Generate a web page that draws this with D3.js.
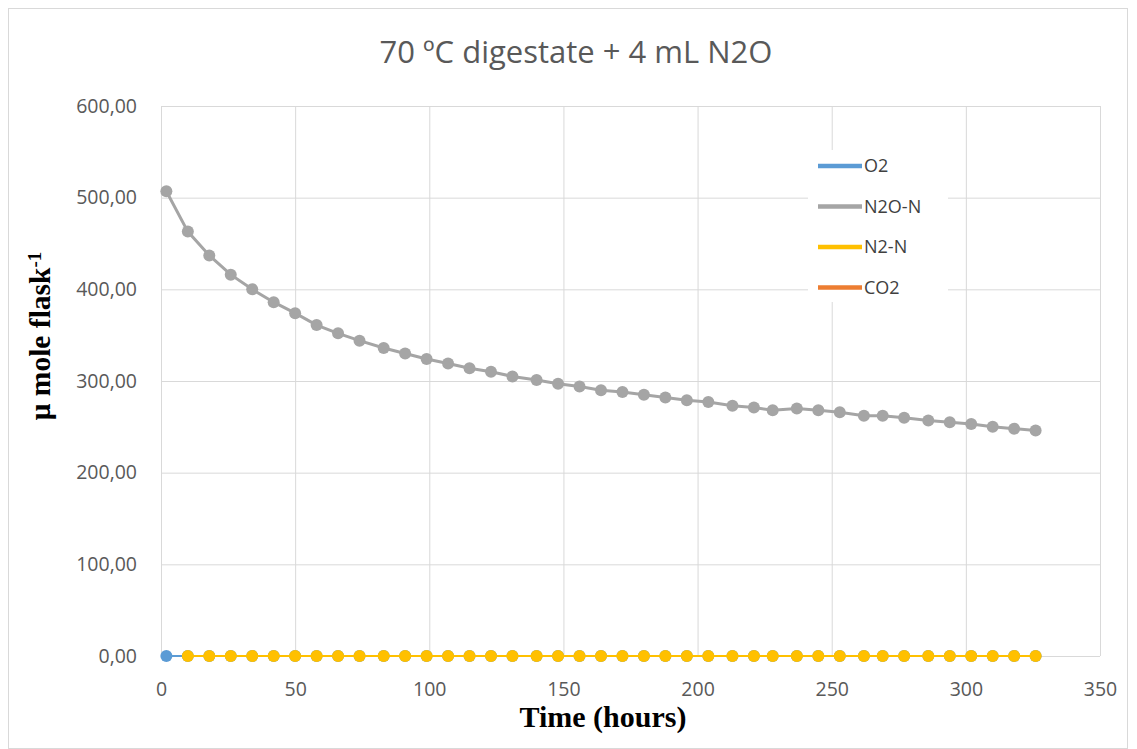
<!DOCTYPE html>
<html>
<head>
<meta charset="utf-8">
<script src="https://cdn.jsdelivr.net/npm/d3@7"></script>
<style>
  body { margin: 0; background: #fff; }
  svg { display: block; }
</style>
</head>
<body>
<svg id="chart"></svg>
<script>
// sampling times (hours)
const hours = [2, 10, 18, 26, 34, 42, 50, 58, 66, 74, 83, 91, 99, 107, 115, 123, 131, 140, 148, 156,
  164, 172, 180, 188, 196, 204, 213, 221, 228, 237, 245, 253, 262, 269, 277, 286, 294, 302, 310, 318, 326];

// µmole per flask
const n2oN = [507, 463, 437, 416, 400, 386, 374, 361, 352, 344, 336, 330, 324, 319, 314, 310, 305, 301, 297, 294,
  290, 288, 285, 282, 279, 277, 273, 271, 268, 270, 268, 266, 262, 262, 260, 257, 255, 253, 250, 248, 246];
const o2 = hours.map(() => 0);
const n2N = hours.slice(1).map(() => 0);
const co2 = [];

const xTicks = [0, 50, 100, 150, 200, 250, 300, 350];
const yTicks = [0, 100, 200, 300, 400, 500, 600];

const series = [
  { name: 'O2', t: hours, v: o2, color: '#5B9BD5', width: 2 },
  { name: 'N2O-N', t: hours, v: n2oN, color: '#A5A5A5', width: 3 },
  { name: 'N2-N', t: hours.slice(1), v: n2N, color: '#FFC000', width: 2 },
  { name: 'CO2', t: [], v: co2, color: '#ED7D31', width: 3 }
];

const W = 1137, H = 749;
const svg = d3.select('#chart').attr('width', W).attr('height', H);

// outer chart border
svg.append('rect')
  .attr('x', 8.5).attr('y', 8.5)
  .attr('width', 1119).attr('height', 740)
  .attr('fill', '#fff')
  .attr('stroke', '#d9d9d9');

const x = d3.scaleLinear().domain([0, 350]).range([161, 1100]);
const y = d3.scaleLinear().domain([0, 600]).range([656, 106]);

const fmt = d => d3.format('.2f')(d).replace('.', ',');

// y axis + horizontal grid
const gy = svg.append('g')
  .attr('transform', `translate(${x(0)},0)`)
  .call(d3.axisLeft(y).tickValues(yTicks).tickFormat(fmt)
    .tickSizeInner(-(x(350) - x(0))).tickSizeOuter(0).tickPadding(24));

// x axis + vertical grid
const gx = svg.append('g')
  .attr('transform', `translate(0,${y(0)})`)
  .call(d3.axisBottom(x).tickValues(xTicks)
    .tickSizeInner(-(y(0) - y(600))).tickSizeOuter(0).tickPadding(26));

[gx, gy].forEach(g => {
  g.select('.domain').remove();
  g.selectAll('line').attr('stroke', '#d9d9d9').attr('stroke-width', 1);
  g.selectAll('text')
    .attr('fill', '#595959')
    .style('font-family', '"Open Sans", sans-serif')
    .style('font-size', '19.5px');
});

// lines and markers
const line = d3.line().x(d => x(d[0])).y(d => y(d[1]));

series.forEach(s => {
  const pts = s.t.map((t, i) => [t, s.v[i]]);
  if (!pts.length) return;
  const g = svg.append('g');
  g.append('path')
    .datum(pts)
    .attr('d', line)
    .attr('fill', 'none')
    .attr('stroke', s.color)
    .attr('stroke-width', s.width);
  g.selectAll('circle')
    .data(pts)
    .enter()
    .append('circle')
    .attr('cx', d => x(d[0]))
    .attr('cy', d => y(d[1]))
    .attr('r', 6)
    .attr('fill', s.color);
});

// legend
const legend = svg.append('g');
legend.append('rect')
  .attr('x', 808).attr('y', 150)
  .attr('width', 140).attr('height', 152)
  .attr('fill', '#fff');

const legendOrder = ['O2', 'N2O-N', 'N2-N', 'CO2'];
legendOrder.forEach((name, i) => {
  const s = series.find(d => d.name === name);
  const ly = 166 + i * 40.5;
  legend.append('line')
    .attr('x1', 818).attr('x2', 862)
    .attr('y1', ly).attr('y2', ly)
    .attr('stroke', s.color)
    .attr('stroke-width', 4.5);
  legend.append('text')
    .text(name)
    .attr('x', 864)
    .attr('y', ly)
    .attr('dy', '0.35em')
    .attr('fill', '#404040')
    .style('font-family', '"Open Sans", sans-serif')
    .style('font-size', '18px');
});

// title
svg.append('text')
  .text('70 ºC digestate + 4 mL N2O')
  .attr('x', 576)
  .attr('y', 63)
  .attr('text-anchor', 'middle')
  .attr('fill', '#595959')
  .style('font-family', '"Open Sans", sans-serif')
  .style('font-size', '31px');

// axis titles
svg.append('text')
  .text('Time (hours)')
  .attr('x', 603)
  .attr('y', 727)
  .attr('text-anchor', 'middle')
  .attr('fill', '#000')
  .style('font-family', '"Liberation Serif", serif')
  .style('font-weight', 'bold')
  .style('font-size', '30px');

const yTitle = svg.append('text')
  .attr('transform', 'translate(50,336) rotate(-90)')
  .attr('text-anchor', 'middle')
  .attr('fill', '#000')
  .style('font-family', '"Liberation Serif", serif')
  .style('font-weight', 'bold')
  .style('font-size', '29.5px');
yTitle.append('tspan').text('μ mole flask');
yTitle.append('tspan').text('-1')
  .attr('dy', '-0.45em')
  .style('font-size', '19px');
</script>
</body>
</html>
